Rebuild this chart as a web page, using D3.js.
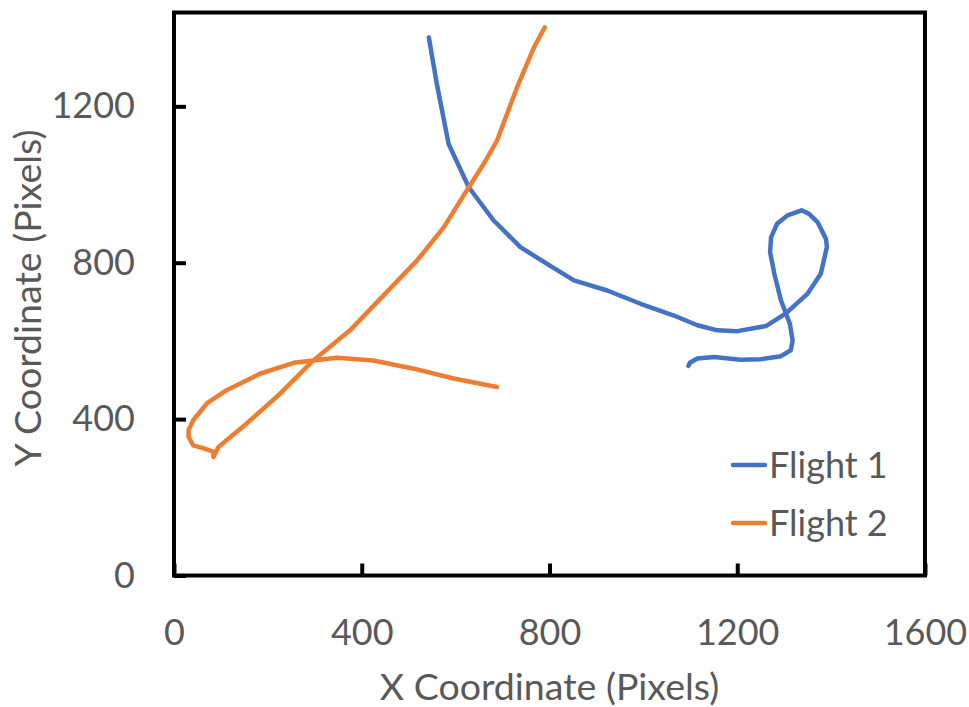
<!DOCTYPE html>
<html>
<head>
<meta charset="utf-8">
<script src="https://cdn.jsdelivr.net/npm/d3@7"></script>
<style>
  html, body { margin: 0; padding: 0; background: #fff; }
  svg { display: block; }
  text { font-family: Lato, "Open Sans", sans-serif; fill: #595959; }
</style>
</head>
<body>
<svg id="chart" width="969" height="707"></svg>
<script>
// ---- Data ----
const seriesNames = ["Flight 1", "Flight 2"];
const seriesColors = ["#4472C4", "#ED7D31"];

const flight1X = [543, 560, 585, 628, 681, 738, 800, 852, 923, 994, 1065, 1115, 1158, 1200, 1261, 1303, 1350, 1378, 1391, 1389, 1371, 1353, 1337, 1307, 1285, 1272, 1270, 1279, 1293, 1312, 1318, 1314, 1293, 1250, 1207, 1151, 1115, 1099, 1096];
const flight1Y = [1376, 1257, 1104, 993, 908, 840, 793, 755, 729, 695, 665, 640, 627, 625, 638, 670, 721, 772, 840, 861, 904, 925, 934, 921, 900, 865, 827, 772, 704, 644, 601, 576, 561, 553, 552, 559, 555, 544, 536];

const flight2X = [790, 767, 731, 688, 660, 628, 575, 518, 375, 297, 226, 155, 112, 95, 84, 84, 63, 41, 31, 31, 41, 70, 112, 183, 255, 297, 347, 425, 511, 596, 688];
const flight2Y = [1402, 1351, 1249, 1112, 1053, 993, 891, 806, 627, 550, 465, 389, 346, 329, 303, 317, 325, 333, 355, 372, 397, 440, 474, 516, 544, 550, 557, 550, 529, 504, 482];

const xTicks = [0, 400, 800, 1200, 1600];
const yTicks = [0, 400, 800, 1200];
const xDomain = [0, 1600];
const yDomain = [0, 1440];
const xTitle = "X Coordinate (Pixels)";
const yTitle = "Y Coordinate (Pixels)";

// ---- Layout ----
const plot = { left: 174, right: 925, top: 12.5, bottom: 575.5 };
const svg = d3.select("#chart");

const x = d3.scaleLinear().domain(xDomain).range([plot.left, plot.right]);
const y = d3.scaleLinear().domain(yDomain).range([plot.bottom, plot.top]);

// Series
const series = [
  { name: seriesNames[0], color: seriesColors[0], xs: flight1X, ys: flight1Y },
  { name: seriesNames[1], color: seriesColors[1], xs: flight2X, ys: flight2Y }
];
const line = d3.line().x(d => x(d[0])).y(d => y(d[1]));

series.forEach(s => {
  const pts = s.xs.map((v, i) => [v, s.ys[i]]);
  svg.append("path")
    .datum(pts)
    .attr("d", line)
    .attr("fill", "none")
    .attr("stroke", s.color)
    .attr("stroke-width", 4.5)
    .attr("stroke-linejoin", "round")
    .attr("stroke-linecap", "round");
});

// Axes (inward ticks)
const xAxis = d3.axisBottom(x).tickValues(xTicks).tickSizeInner(-12).tickSizeOuter(0).tickPadding(44).tickFormat(d3.format("d"));
const yAxis = d3.axisLeft(y).tickValues(yTicks).tickSizeInner(-12).tickSizeOuter(0).tickPadding(39).tickFormat(d3.format("d"));

const gx = svg.append("g").attr("transform", `translate(0,${plot.bottom})`).call(xAxis);
const gy = svg.append("g").attr("transform", `translate(${plot.left},0)`).call(yAxis);
[gx, gy].forEach(g => {
  g.select(".domain").remove();
  g.selectAll(".tick line").attr("stroke", "#000").attr("stroke-width", 4);
  g.selectAll(".tick text").attr("fill", "#595959").style("font-size", "36px").style("font-family", "Lato, sans-serif");
});

// Frame
svg.append("rect")
  .attr("x", plot.left).attr("y", plot.top)
  .attr("width", plot.right - plot.left).attr("height", plot.bottom - plot.top)
  .attr("fill", "none").attr("stroke", "#000").attr("stroke-width", 4);

// Axis titles
svg.append("text")
  .attr("x", (plot.left + plot.right) / 2).attr("y", 700)
  .attr("text-anchor", "middle")
  .style("font-size", "37.5px")
  .text(xTitle);

svg.append("text")
  .attr("transform", `translate(41,${(plot.top + plot.bottom) / 2 + 4}) rotate(-90)`)
  .attr("text-anchor", "middle")
  .style("font-size", "37.5px")
  .text(yTitle);

// Legend
const legend = svg.append("g");
series.forEach((s, i) => {
  const ly = 465 + i * 58;
  legend.append("line")
    .attr("x1", 733).attr("x2", 765).attr("y1", ly).attr("y2", ly)
    .attr("stroke", s.color).attr("stroke-width", 4.5).attr("stroke-linecap", "round");
  legend.append("text")
    .attr("x", 769).attr("y", ly + 13)
    .style("font-size", "36px")
    .text(s.name);
});
</script>
</body>
</html>
